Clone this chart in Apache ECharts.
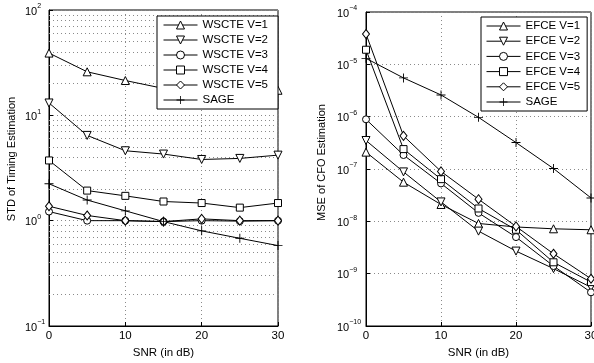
<!DOCTYPE html>
<html><head><meta charset="utf-8">
<script src="https://cdn.jsdelivr.net/npm/echarts@6/dist/echarts.min.js"></script>
<style>html,body{margin:0;padding:0;background:#fff}#c{width:594px;height:363px}</style>
</head><body><div id="c"></div>
<script>
// ---- data ----
const snr = [0, 5, 10, 15, 20, 25, 30];
const xTickStep = 10;

const leftNames = ['WSCTE V=1', 'WSCTE V=2', 'WSCTE V=3', 'WSCTE V=4', 'WSCTE V=5', 'SAGE'];
const leftV1 = [39, 25.9, 21.4, 18.0, 17.6, 17.4, 17.3];
const leftV2 = [13.1, 6.45, 4.61, 4.29, 3.81, 3.9, 4.19];
const leftV3 = [1.22, 1.0, 1.0, 0.98, 1.0, 0.99, 1.0];
const leftV4 = [3.73, 1.93, 1.72, 1.52, 1.47, 1.33, 1.47];
const leftV5 = [1.37, 1.12, 1.0, 0.98, 1.04, 1.0, 1.0];
const leftSAGE = [2.24, 1.57, 1.24, 0.98, 0.80, 0.68, 0.58];

const rightNames = ['EFCE V=1', 'EFCE V=2', 'EFCE V=3', 'EFCE V=4', 'EFCE V=5', 'SAGE'];
const rightV1 = [2.1e-7, 5.6e-8, 2.1e-8, 9.1e-9, 7.8e-9, 7.2e-9, 6.9e-9];
const rightV2 = [3.5e-7, 8.8e-8, 2.35e-8, 6.5e-9, 2.7e-9, 1.25e-9, 5.5e-10];
const rightV3 = [8.9e-7, 1.85e-7, 5.3e-8, 1.45e-8, 5.0e-9, 1.4e-9, 4.4e-10];
const rightV4 = [1.9e-5, 2.4e-7, 6.4e-8, 1.76e-8, 6.9e-9, 1.65e-9, 6.9e-10];
const rightV5 = [3.8e-5, 4.3e-7, 9.0e-8, 2.65e-8, 8.0e-9, 2.4e-9, 8.0e-10];
const rightSAGE = [1.3e-5, 5.5e-6, 2.6e-6, 9.7e-7, 3.2e-7, 1.02e-7, 2.8e-8];

const leftRange = [0.1, 100];
const rightRange = [1e-10, 1e-4];

// ---- styling ----
const FONT = '"Liberation Sans", Arial, Helvetica, sans-serif';
const GRIDDOT = {type: [1, 3], color: '#8a8a8a', width: 1};
const PLUS = 'path://M4.5,0h1v10h-1zM0,4.5h10v1h-10z';
const markers = [
  {symbol: 'triangle', size: 8, rot: 0},
  {symbol: 'triangle', size: 8, rot: 180},
  {symbol: 'circle', size: 7, rot: 0},
  {symbol: 'rect', size: 7, rot: 0},
  {symbol: 'diamond', size: [7, 9], rot: 0},
  {symbol: PLUS, size: 9, rot: 0, plus: true}
];

function minorValues(range) {
  const out = [];
  const e0 = Math.round(Math.log10(range[0])), e1 = Math.round(Math.log10(range[1]));
  for (let e = e0; e < e1; e++) for (let k = 2; k <= 9; k++) out.push({yAxis: k * Math.pow(10, e)});
  return out;
}

function expLabel(v) {
  const e = Math.round(Math.log10(v));
  return '{b|10}{s|' + (e < 0 ? '\u2212' + (-e) : e) + '}';
}

function mkSeries(name, ys, idx, g) {
  const m = markers[idx];
  return {
    type: 'line', name: name, xAxisIndex: g, yAxisIndex: g,
    data: snr.map((x, i) => [x, ys[i]]),
    symbol: m.symbol, symbolSize: m.size, symbolRotate: m.rot,
    showAllSymbol: true,
    lineStyle: {color: '#000', width: 1},
    itemStyle: m.plus ? {color: '#000', borderWidth: 0} : {color: '#fff', borderColor: '#000', borderWidth: 1},
    emphasis: {disabled: true}, silent: true, animation: false, z: 3
  };
}

function xAxisCfg(g) {
  return {
    type: 'value', gridIndex: g, min: 0, max: 30, interval: xTickStep,
    name: 'SNR (in dB)', nameLocation: 'middle', nameGap: 19,
    nameTextStyle: {fontFamily: FONT, fontSize: 11.5, color: '#000'},
    axisLine: {show: true, onZero: false, lineStyle: {color: '#000', width: 1}},
    axisTick: {show: true, inside: true, length: 4, lineStyle: {color: '#000'}},
    axisLabel: {fontFamily: FONT, fontSize: 11.5, color: '#000', margin: 4},
    splitLine: {show: true, lineStyle: GRIDDOT}
  };
}

function yAxisCfg(g, range, name, nameGap, margin, shift) {
  return {
    type: 'log', logBase: 10, gridIndex: g, min: range[0], max: range[1],
    name: name, nameLocation: 'middle', nameGap: nameGap,
    nameTextStyle: {fontFamily: FONT, fontSize: 11, color: '#000', padding: [0, 0, 0, shift]},
    axisLine: {show: true, lineStyle: {color: '#000', width: 1}},
    axisTick: {show: true, inside: true, length: 4, lineStyle: {color: '#000'}},
    axisLabel: {
      formatter: expLabel, align: 'left', margin: margin, color: '#000',
      rich: {
        b: {fontFamily: FONT, fontSize: 11, lineHeight: 14, verticalAlign: 'bottom', color: '#000'},
        s: {fontFamily: FONT, fontSize: 7, lineHeight: 7, verticalAlign: 'top', color: '#000'}
      }
    },
    splitLine: {show: true, lineStyle: GRIDDOT}
  };
}

function gridLineSeries(g, range) {
  return {
    type: 'line', name: '_grid' + g, xAxisIndex: g, yAxisIndex: g, data: [],
    silent: true, animation: false,
    markLine: {
      silent: true, animation: false, symbol: ['none', 'none'], z: 1,
      label: {show: false}, lineStyle: GRIDDOT, emphasis: {disabled: true},
      data: minorValues(range)
    }
  };
}

function legendCfg(names, left, top, pad, gap) {
  return {
    data: names, orient: 'vertical', left: left, top: top,
    padding: pad, itemGap: gap, itemWidth: 34, itemHeight: 10,
    borderColor: '#000', borderWidth: 1, borderRadius: 0, backgroundColor: '#fff',
    selectedMode: false, z: 10,
    itemStyle: {borderWidth: 1},
    lineStyle: {width: 1, color: '#000'},
    textStyle: {fontFamily: FONT, fontSize: 11.5, color: '#000'}
  };
}

const leftData = [leftV1, leftV2, leftV3, leftV4, leftV5, leftSAGE];
const rightData = [rightV1, rightV2, rightV3, rightV4, rightV5, rightSAGE];

const series = [gridLineSeries(0, leftRange), gridLineSeries(1, rightRange)];
leftData.forEach((d, i) => series.push(mkSeries(leftNames[i], d, i, 0)));
rightData.forEach((d, i) => series.push(mkSeries(rightNames[i], d, i, 1)));

const chart = echarts.init(document.getElementById('c'), null, {renderer: 'canvas'});
chart.setOption({
  animation: false,
  backgroundColor: '#fff',
  grid: [
    {left: 49, top: 10, width: 229, height: 316, show: true, borderColor: '#000', borderWidth: 1, backgroundColor: 'transparent', outerBoundsMode: 'none', containLabel: false},
    {left: 366, top: 12, width: 225, height: 314, show: true, borderColor: '#000', borderWidth: 1, backgroundColor: 'transparent', outerBoundsMode: 'none', containLabel: false}
  ],
  xAxis: [xAxisCfg(0), xAxisCfg(1)],
  yAxis: [
    yAxisCfg(0, leftRange, 'STD of Timing Estimation', 32, 24, 18),
    yAxisCfg(1, rightRange, 'MSE of CFO Estimation', 39, 29, 13)
  ],
  legend: [
    legendCfg(leftNames, 157, 16, [3, 10, 3, 6], 3),
    legendCfg(rightNames, 481, 17, [3, 7, 3, 5], 3.2)
  ],
  series: series
});
</script>
</body></html>
